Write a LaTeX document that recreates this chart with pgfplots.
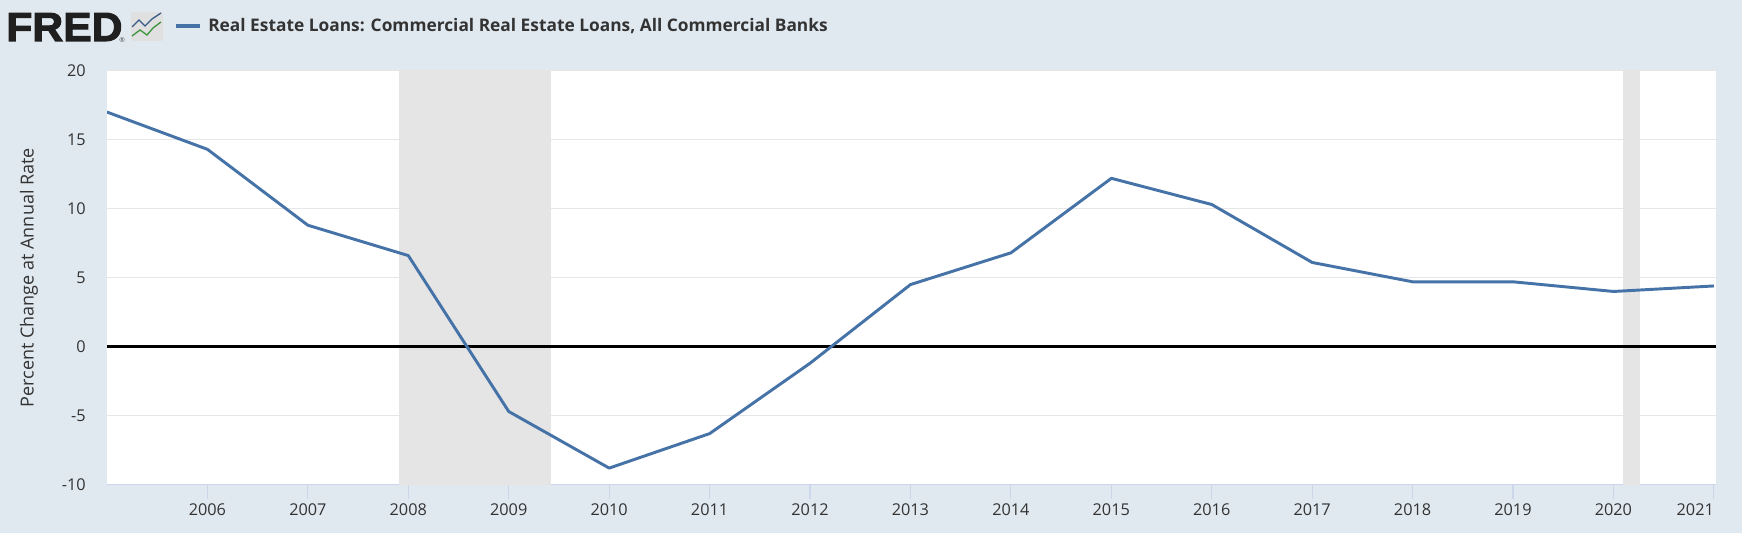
\documentclass[border=0pt]{standalone}
\usepackage{pgfplots}
\pgfplotsset{compat=1.18}
\usepackage{fontspec}
\setmainfont{Open Sans}
\newfontfamily\logofont[FakeStretch=1.05,FakeBold=2.5]{Liberation Sans Bold}
\definecolor{bgc}{HTML}{E1E9F0}
\definecolor{linec}{HTML}{4572A7}
\definecolor{txt}{HTML}{333333}
\definecolor{tickc}{HTML}{CCD6EB}
\definecolor{gridc}{HTML}{E6E6E6}
\definecolor{recc}{HTML}{E5E5E5}
\pgfplotstableread{
x y
2005 17.0
2006 14.3
2007 8.8
2008 6.6
2009 -4.7
2010 -8.8
2011 -6.3
2012 -1.2
2013 4.5
2014 6.8
2015 12.2
2016 10.3
2017 6.1
2018 4.7
2019 4.7
2020 4.0
2021 4.4
}\datatable
\begin{document}
\begin{tikzpicture}
\begin{scope}[x=0.75pt,y=0.75pt]
\useasboundingbox (0,0) rectangle (1742,533);
\fill[bgc] (0,0) rectangle (1742,533);
% logo
\node[anchor=base west,inner sep=0,text=black!88] at (6,492) {\fontsize{30.5pt}{30.5pt}\logofont FRED};
\node[anchor=base west,inner sep=0,text=black!70] at (119,490) {\fontsize{5pt}{5pt}\selectfont ®};
\fill[rounded corners=1pt,black!12] (131,492) rectangle (163,521);
\draw[line width=1pt,linec!80!black] (132,506)--(139,513)--(145,507)--(152,514)--(161,520);
\draw[line width=1pt,green!45!black!75] (132,497)--(140,503)--(147,498)--(153,505)--(161,511);
% legend
\draw[linec,line width=2.4pt] (176,507)--(200,507);
\node[anchor=west,inner sep=0,text=txt] at (208,507) {\fontsize{13pt}{15pt}\selectfont\bfseries Real Estate Loans: Commercial Real Estate Loans, All Commercial Banks};
\end{scope}
\begin{axis}[
  at={(80.25pt,36.25pt)},anchor=south west,
  scale only axis,width=1206.75pt,height=310.5pt,
  xmin=2005,xmax=2021.02,ymin=-10,ymax=20,
  axis background/.style={fill=white},
  axis x line*=bottom,
  axis y line*=left,
  x axis line style={draw=tickc,line width=0.9pt,-},
  y axis line style={draw=none,-},
  xtick={2006,...,2021},
  xticklabels={2006,2007,2008,2009,2010,2011,2012,2013,2014,2015,2016,2017,2018,2019,2020,\llap{2021}},
  ytick={-10,-5,0,5,10,15,20},
  yticklabels={-10,-5,0,5,10,15,20},
  ymajorgrids,
  grid style={draw=gridc,line width=0.9pt},
  major tick length=11pt,
  tick align=outside,
  x tick style={draw=tickc,line width=0.9pt},
  y tick style={draw=none},
  tick label style={text=txt,font=\fontsize{12.2pt}{14pt}\selectfont},
  xticklabel style={yshift=0pt},
  yticklabel style={xshift=-1.5pt,yshift=0pt},
  ylabel={Percent Change at Annual Rate},
  every axis y label/.style={at={(axis description cs:0,0.5)},xshift=-58.5pt,rotate=90,anchor=center,text=txt,font=\fontsize{13.5pt}{15pt}\selectfont},
  clip=true,
]
\addplot[fill=recc,draw=none,forget plot] coordinates {(2007.91,-10)(2007.91,20)(2009.42,20)(2009.42,-10)} -- cycle;
\addplot[fill=recc,draw=none,forget plot] coordinates {(2020.09,-10)(2020.09,20)(2020.26,20)(2020.26,-10)} -- cycle;
\addplot[black,line width=2.1pt,forget plot] coordinates {(2005,0)(2021.02,0)};
\addplot[linec,line width=2.2pt,line join=round] table[x=x,y=y] {\datatable};
\end{axis}
\end{tikzpicture}
\end{document}
